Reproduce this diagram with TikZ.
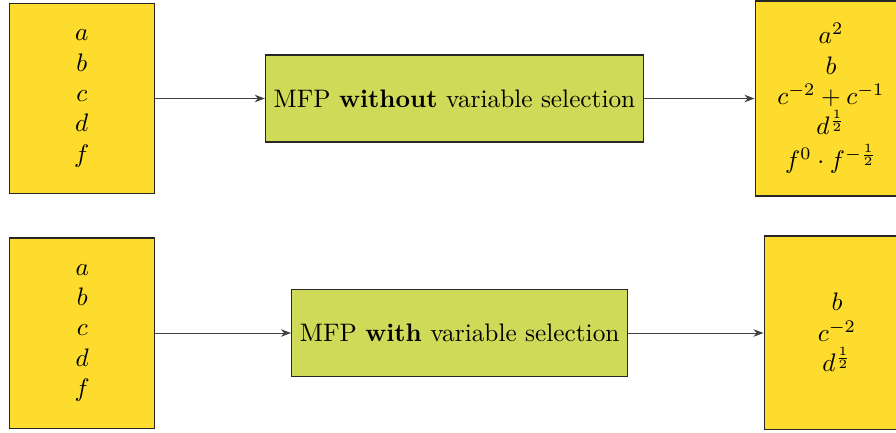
\documentclass[tikz,border=0pt]{standalone}
\usetikzlibrary{arrows.meta}
\definecolor{boxyellow}{RGB}{253,220,46}
\definecolor{boxgreen}{RGB}{207,218,88}
\begin{document}
\begin{tikzpicture}[x=0.3953pt,y=-0.3953pt,
  varbox/.style={draw=black!85, fill=boxyellow, align=center, inner sep=0pt},
  mfpbox/.style={draw=black!85, fill=boxgreen, inner sep=3.33pt, minimum height={87*0.3953pt}},
  flow/.style={draw=black!75, -{Stealth[length=4pt,width=3pt]}}]
\useasboundingbox (0,0) rectangle (896,432);
% top row
\node[varbox, minimum width={145*0.3953pt}, minimum height={189.6*0.3953pt}] (in1) at (81.8,98.5)
  {$a$\\$b$\\$c$\\$d$\\$f$};
\node[mfpbox] (m1) at (454.5,98.5) {MFP \textbf{without} variable selection};
\node[varbox, minimum width={152*0.3953pt}, minimum height={195*0.3953pt}] (out1) at (831,98.5)
  {$a^2$\\$b$\\$c^{-2}+c^{-1}$\\$d^{\frac{1}{2}}$\\[1.5pt]$f^0\cdot f^{-\frac{1}{2}}$};
% bottom row
\node[varbox, minimum width={145*0.3953pt}, minimum height={190*0.3953pt}] (in2) at (82.3,333)
  {$a$\\$b$\\$c$\\$d$\\$f$};
\node[mfpbox] (m2) at (459.7,333) {MFP \textbf{with} variable selection};
\node[varbox, minimum width={146*0.3953pt}, minimum height={193*0.3953pt}] (out2) at (837,332.5)
  {$b$\\$c^{-2}$\\$d^{\frac{1}{2}}$};
% connectors
\draw[flow] (in1.east |- m1.west) -- (m1.west);
\draw[flow] (m1.east) -- (m1.east -| out1.west);
\draw[flow] (in2.east |- m2.west) -- (m2.west);
\draw[flow] (m2.east) -- (m2.east -| out2.west);
\end{tikzpicture}
\end{document}
